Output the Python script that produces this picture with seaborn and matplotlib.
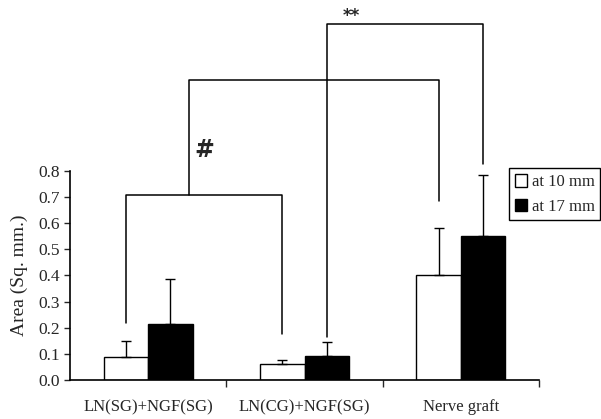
import matplotlib
matplotlib.use('Agg')
import matplotlib.pyplot as plt
import seaborn as sns
import pandas as pd
from matplotlib.ticker import FixedLocator

# data
groups = ['LN(SG)+NGF(SG)', 'LN(CG)+NGF(SG)', 'Nerve graft']
positions = ['at 10 mm', 'at 17 mm']
area_10mm = [0.088, 0.062, 0.402]
area_17mm = [0.213, 0.092, 0.552]
err_10mm = [0.061, 0.015, 0.180]
err_17mm = [0.174, 0.053, 0.233]

df = pd.DataFrame({
    'group': groups * 2,
    'position': [positions[0]] * 3 + [positions[1]] * 3,
    'area': area_10mm + area_17mm,
})

sns.set_style('ticks')
plt.rcParams['font.family'] = ['Liberation Serif', 'DejaVu Serif']

fig = plt.figure(figsize=(6.01, 4.19), dpi=100, facecolor='w')
ax = fig.add_axes([0.1165, 0.0931, 0.7804, 0.4988])

sns.barplot(data=df, x='group', y='area', hue='position', order=groups,
            hue_order=positions, palette=['white', 'black'], edgecolor='black',
            linewidth=1, width=0.57, errorbar=None, ax=ax)

# one-sided error bars on top of each bar
bars = [p for p in ax.patches if p.get_height() > 0]
bars = sorted(bars, key=lambda p: p.get_x())
centers = [p.get_x() + p.get_width() / 2 for p in bars]
tops = [p.get_height() for p in bars]
errs = []
for i in range(len(groups)):
    errs += [err_10mm[i], err_17mm[i]]
ax.errorbar(centers, tops, yerr=[[0] * len(errs), errs], fmt='none',
            ecolor='black', elinewidth=1, capsize=3.3, capthick=1)

# significance brackets
kw = dict(color='black', lw=1.1, clip_on=False)
w1, b1, w2, b2, w3, b3 = centers
ax.plot([w1, w1, w2, w2], [0.218, 0.708, 0.708, 0.176], **kw)
mid = 0.405 * (w2 - w1) + w1
ax.plot([mid, mid, w3, w3], [0.708, 1.148, 1.148, 0.685], **kw)
ax.plot([b2, b2, b3, b3], [0.165, 1.363, 1.363, 0.827], **kw)
ax.text(mid + 0.03, 0.88, '#', fontsize=17, fontweight='bold',
        family='DejaVu Sans', ha='left', va='center')
ax.text((b2 + b3) / 2 - 0.34, 1.395, '**', fontsize=12, fontweight='bold',
        family='DejaVu Sans', ha='center', va='center')

ax.set_ylim(0, 0.8)
ax.set_xlim(-0.5, 2.5)
ax.set_yticks([i / 10 for i in range(9)])
ax.set_yticklabels([f'{i / 10:.1f}' for i in range(9)], fontsize=12.5)
ax.tick_params(axis='y', direction='out', length=4, width=1, pad=3)
ax.tick_params(axis='x', which='major', length=0, pad=14, labelsize=12)
ax.xaxis.set_minor_locator(FixedLocator([0.5, 1.5, 2.5]))
ax.tick_params(axis='x', which='minor', direction='out', length=5, width=1)
ax.set_xlabel('')
ax.set_ylabel('Area (Sq. mm.)', fontsize=14, labelpad=8)
for s in ['top', 'right']:
    ax.spines[s].set_visible(False)
for s in ['left', 'bottom']:
    ax.spines[s].set_linewidth(1.2)
    ax.spines[s].set_color('black')

leg = ax.legend(loc='upper left', bbox_to_anchor=(0.936, 1.012), borderaxespad=0,
                fancybox=False, edgecolor='black', fontsize=12, handlelength=0.75,
                handleheight=0.75, handletextpad=0.25, labelspacing=0.5,
                borderpad=0.35, title=None)
leg.get_frame().set_linewidth(1)
leg.get_frame().set_alpha(1)

fig.savefig('out.png', dpi=100)
